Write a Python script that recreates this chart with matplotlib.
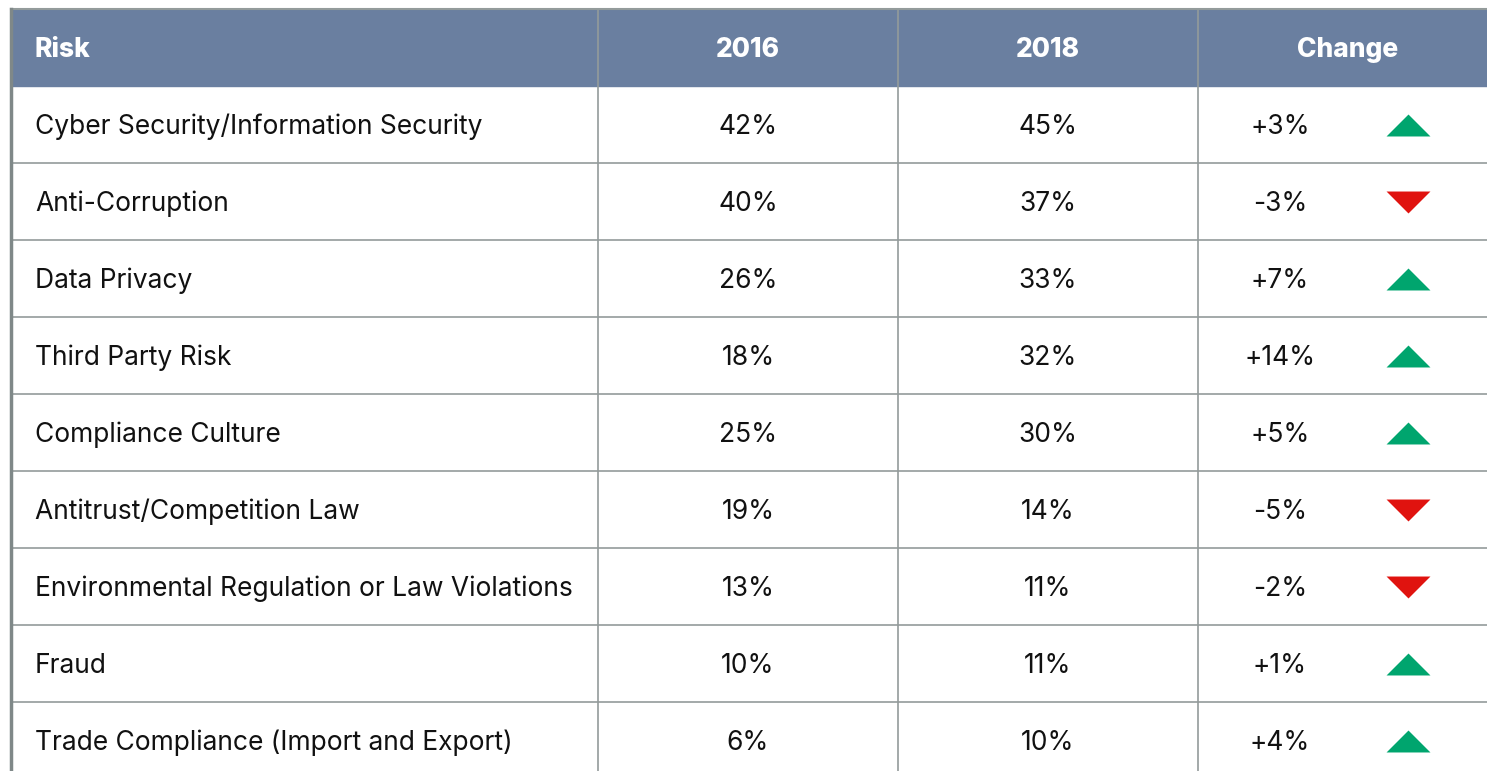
import numpy as np
import matplotlib.pyplot as plt
from matplotlib.path import Path

risks = [
    "Cyber Security/Information Security",
    "Anti-Corruption",
    "Data Privacy",
    "Third Party Risk",
    "Compliance Culture",
    "Antitrust/Competition Law",
    "Environmental Regulation or Law Violations",
    "Fraud",
    "Trade Compliance (Import and Export)",
]
pct_2016 = [42, 40, 26, 18, 25, 19, 13, 10, 6]
pct_2018 = [45, 37, 33, 32, 30, 14, 11, 11, 10]
change = [3, -3, 7, 14, 5, -5, -2, 1, 4]
headers = ["Risk", "2016", "2018", "Change"]

W, H = 1487, 771
fig = plt.figure(figsize=(W / 100, H / 100), dpi=100)
ax = fig.add_axes([0, 0, 1, 1])
ax.set_xlim(0, W)
ax.set_ylim(H, 0)
ax.axis("off")

font = "Inter"
fs = 19
txt_col = "#111111"
header_col = "#6a7fa0"
grid_col = "#939b9b"
up_col = "#00a56e"
down_col = "#e0130f"

top, head_h, row_h = 8.5, 77.5, 77
left = 11
col_x = [left, 598, 898, 1198, W]
# centres of the value columns (the last one is cut off by the image edge)
col_c = [748, 1048, 1348]

# header band
ax.add_patch(plt.Rectangle((left, top), W - left, head_h, color=header_col, zorder=1))
ax.plot([left, W], [top, top], color=grid_col, lw=1.5, zorder=2)

head_y = top + head_h / 2 + 3
ax.text(35, head_y, headers[0], color="white", fontsize=fs, fontweight="heavy",
        family=font, va="center", ha="left")
for k, h in enumerate(headers[1:]):
    ax.text(col_c[k], head_y, h, color="white", fontsize=fs, fontweight="heavy",
            family=font, va="center", ha="center")

# grid lines
body_top = top + head_h
for i in range(1, len(risks)):
    y = body_top + i * row_h
    ax.plot([left, W], [y, y], color=grid_col, lw=1.2, zorder=2)
for x in col_x[1:4]:
    ax.plot([x, x], [top, H], color=grid_col, lw=1.2, zorder=2)
ax.plot([left, left], [top, H], color="#7f8888", lw=2.5, zorder=3)

# marker paths are in display space (y up)
up = Path([(-1, -0.5), (1, -0.5), (0, 0.5), (-1, -0.5)])
down = Path([(-1, 0.5), (1, 0.5), (0, -0.5), (-1, 0.5)])

for i, r in enumerate(risks):
    y = body_top + (i + 0.5) * row_h + 2.5
    ax.text(35, y, r, fontsize=fs, family=font, color=txt_col, va="center", ha="left")
    ax.text(col_c[0], y, f"{pct_2016[i]}%", fontsize=fs, family=font, color=txt_col,
            va="center", ha="center")
    ax.text(col_c[1], y, f"{pct_2018[i]}%", fontsize=fs, family=font, color=txt_col,
            va="center", ha="center")
    ax.text(1280, y, f"{change[i]:+d}%", fontsize=fs, family=font, color=txt_col,
            va="center", ha="center")
    if change[i] > 0:
        ax.scatter([1408], [y - 2], marker=up, s=1000, color=up_col, lw=0, zorder=4)
    else:
        ax.scatter([1408], [y - 2], marker=down, s=1000, color=down_col, lw=0, zorder=4)

fig.savefig("out.png", dpi=100)
